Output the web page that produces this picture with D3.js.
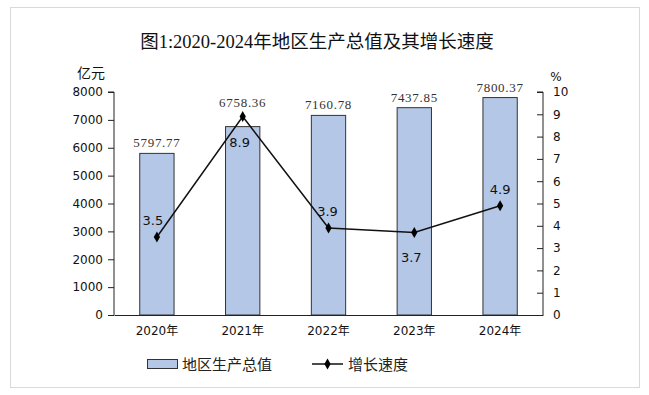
<!DOCTYPE html>
<html><head><meta charset="utf-8">
<script src="https://cdn.jsdelivr.net/npm/d3@7"></script>
<style>body{margin:0;background:#fff}svg{display:block}</style>
</head><body>
<script>
const categories = ["2020年","2021年","2022年","2023年","2024年"];
const gdpValues = [5797.77, 6758.36, 7160.78, 7437.85, 7800.37];
const gdpLabels = ["5797.77","6758.36","7160.78","7437.85","7800.37"];
const growthValues = [3.5, 8.9, 3.9, 3.7, 4.9];
const leftTicks = [0,1000,2000,3000,4000,5000,6000,7000,8000];
const rightTicks = [0,1,2,3,4,5,6,7,8,9,10];
const title = "图1:2020-2024年地区生产总值及其增长速度";
const legendNames = ["地区生产总值","增长速度"];

const W = 649, H = 395;
const svg = d3.select("body").append("svg").attr("width", W).attr("height", H);
const serif = "'Liberation Serif','Noto Sans CJK SC',serif";
const sans = "'DejaVu Sans','Noto Sans CJK SC',sans-serif";
const cjk = "'Noto Sans CJK SC',sans-serif";

svg.append("rect").attr("x",10.5).attr("y",7.5).attr("width",629).attr("height",380)
  .attr("fill","#fff").attr("stroke","#d9d9d9");

const m = {left:114, right:543, top:92, bottom:315};
const x = d3.scaleBand().domain(categories).range([m.left, m.right]).paddingInner(0.6).paddingOuter(0.3);
const y = d3.scaleLinear().domain([0,8000]).range([m.bottom, m.top]);
const y2 = d3.scaleLinear().domain([0,10]).range([m.bottom, m.top]);

svg.append("text").attr("x",317).attr("y",48).attr("text-anchor","middle")
  .attr("font-family",serif).attr("font-size",18.5).attr("fill","#111").text(title);

// bars
svg.selectAll("rect.bar").data(gdpValues).join("rect").attr("class","bar")
  .attr("x",(d,i)=>x(categories[i])).attr("width",x.bandwidth())
  .attr("y",d=>y(d)).attr("height",d=>m.bottom-y(d))
  .attr("fill","#b4c7e7").attr("stroke","#333").attr("stroke-width",1);

// axes
const gl = svg.append("g").attr("transform",`translate(${m.left},0)`)
  .call(d3.axisLeft(y).tickValues(leftTicks).tickSize(6).tickPadding(5).tickFormat(d3.format("d")));
const gr = svg.append("g").attr("transform",`translate(${m.right},0)`)
  .call(d3.axisRight(y2).tickValues(rightTicks).tickSizeInner(-6).tickSizeOuter(0).tickPadding(10));
const gb = svg.append("g").attr("transform",`translate(0,${m.bottom})`)
  .call(d3.axisBottom(x).tickSize(0).tickPadding(11));
[gl,gr,gb].forEach(g=>{
  g.selectAll("path,line").attr("stroke","#222");
  g.selectAll("text").attr("font-family",sans).attr("font-size",12).attr("fill","#111");
});
gl.select("path").attr("d",`M-6,${m.top}H0V${m.bottom}`);
gr.select("path").attr("d",`M-6,${m.top}H0V${m.bottom}`);

svg.append("text").attr("x",91).attr("y",78).attr("text-anchor","middle")
  .attr("font-family",cjk).attr("font-size",14).attr("fill","#111").text("亿元");
svg.append("text").attr("x",556).attr("y",81).attr("text-anchor","middle")
  .attr("font-family",sans).attr("font-size",12).attr("fill","#111").text("%");

// line
const cx = (i)=>x(categories[i])+x.bandwidth()/2;
const line = d3.line().x((d,i)=>cx(i)).y(d=>y2(d));
svg.append("path").datum(growthValues).attr("d",line).attr("fill","none").attr("stroke","#111").attr("stroke-width",1.5);
const diamond = d3.symbol().type(d3.symbolDiamond).size(34);
svg.selectAll("path.pt").data(growthValues).join("path").attr("class","pt")
  .attr("d",diamond).attr("transform",(d,i)=>`translate(${cx(i)},${y2(d)})`).attr("fill","#000");

// bar labels
svg.selectAll("text.bl").data(gdpValues).join("text").attr("class","bl")
  .attr("x",(d,i)=>cx(i))
  .attr("y",(d,i)=>Math.min(y(d), y2(growthValues[i])-4)-6)
  .attr("text-anchor","middle").attr("font-family",serif).attr("font-size",13)
  .attr("letter-spacing",0.7).attr("fill","#333")
  .text((d,i)=>gdpLabels[i]);

// line labels
const below = [false,true,false,true,false];
const dx = [-4,-3,-1,-3,0];
svg.selectAll("text.ll").data(growthValues).join("text").attr("class","ll")
  .attr("x",(d,i)=>cx(i)+dx[i])
  .attr("y",(d,i)=>y2(d)+(below[i]?30:-12))
  .attr("text-anchor","middle").attr("font-family",sans).attr("font-size",13).attr("fill","#111")
  .text(d=>d3.format(".1f")(d));

// legend
const lg = svg.append("g");
lg.append("rect").attr("x",147.5).attr("y",359.5).attr("width",30).attr("height",9)
  .attr("fill","#b4c7e7").attr("stroke","#333");
lg.append("text").attr("x",182).attr("y",370).attr("font-family",cjk).attr("font-size",15).attr("fill","#222").text(legendNames[0]);
lg.append("line").attr("x1",312).attr("x2",343).attr("y1",364).attr("y2",364).attr("stroke","#111").attr("stroke-width",1.5);
lg.append("path").attr("d",diamond).attr("transform","translate(327.5,364)").attr("fill","#000");
lg.append("text").attr("x",348).attr("y",370).attr("font-family",cjk).attr("font-size",15).attr("fill","#222").text(legendNames[1]);
</script>
</body></html>
